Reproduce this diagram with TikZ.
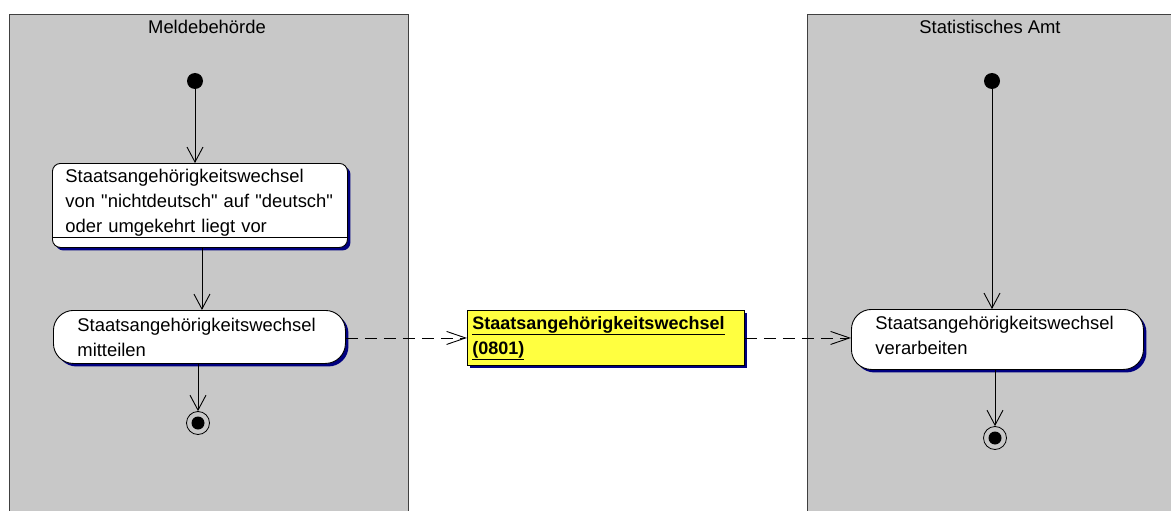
\documentclass[tikz,border=0pt]{standalone}
\usepackage{fontspec}
\setmainfont{Liberation Sans}[Ligatures=TeXOff]
\usetikzlibrary{arrows.meta,shadows}
\definecolor{lanegray}{RGB}{200,200,200}
\definecolor{shadownavy}{RGB}{0,0,128}
\definecolor{objyellow}{RGB}{255,255,64}
\newcommand{\dropdepth}[1]{\rule[-#1]{0pt}{0pt}}
\begin{document}
\begin{tikzpicture}[x=1pt,y=-1pt,
  font=\fontsize{18.4}{25}\selectfont,
  lane/.style={draw=black!75, fill=lanegray, line width=1pt, rectangle, anchor=north west, inner sep=0pt},
  lanetitle/.style={inner sep=0pt},
  navyshadow/.style={drop shadow={fill=shadownavy, opacity=1, shadow xshift=3pt, shadow yshift=-3pt}},
  actionbox/.style={draw=black, fill=white, line width=0.9pt, navyshadow, anchor=north west, align=left, inner ysep=0pt},
  objbox/.style={draw=black, fill=objyellow, line width=0.9pt, navyshadow, anchor=north west, align=left, inner ysep=0pt, inner xsep=5pt, text width=267pt, minimum width=277pt, minimum height=55pt, font=\fontsize{18}{25}\selectfont\bfseries},
  startdot/.style={circle, fill=black, minimum size=16pt, inner sep=0pt},
  enddot/.style={circle, draw=black, line width=0.8pt, minimum size=23pt, inner sep=0pt,
    path picture={\fill[black] (path picture bounding box.center) circle (6.5pt);}},
  flow/.style={draw=black, line width=0.9pt, -{Straight Barb[length=15pt,width=16pt,line width=0.9pt]}},
  objflow/.style={draw=black, line width=0.9pt, dash pattern=on 12pt off 7pt, -{Straight Barb[length=19pt,width=13pt,line width=0.9pt]}}
]
\useasboundingbox (0,0) rectangle (1171,511);
\clip (0,0) rectangle (1171,511);
\fill[white] (0,0) rectangle (1171,511);

% swimlanes
\node[lane, minimum width=399pt, minimum height=520pt] (lane1) at (9,14) {};
\node[lane, minimum width=380pt, minimum height=520pt] (lane2) at (807,14) {};
\node[lanetitle] (t1) at (207,27) {Meldebehörde};
\node[lanetitle] (t2) at (990,27) {Statistisches Amt};

% left lane
\node[startdot] (s1) at (195,81) {};
\node[actionbox, rounded corners=8pt, inner xsep=13pt, text width=269pt, minimum width=295pt, minimum height=84pt] (b1) at (52,163)
  {Staatsangehörigkeitswechsel\\von "nichtdeutsch" auf "deutsch"\\oder umgekehrt liegt vor\dropdepth{10pt}};
\draw[black, line width=0.9pt] ([yshift=10pt]b1.south west) -- ([yshift=10pt]b1.south east);
\node[actionbox, rounded corners=20pt, inner xsep=24pt, text width=244pt, minimum width=292pt, minimum height=53pt] (b2) at (53,310)
  {Staatsangehörigkeitswechsel\\mitteilen};
\node[enddot] (e1) at (198,423) {};

% object
\node[objbox] (obj) at (467,310) {\underline{Staatsangehörigkeitswechsel}\\\underline{(0801)}\dropdepth{4pt}};

% right lane
\node[startdot] (s2) at (992,81) {};
\node[actionbox, rounded corners=20pt, inner xsep=24pt, text width=244pt, minimum width=292pt, minimum height=60pt] (b3) at (851,309)
  {Staatsangehörigkeitswechsel\\verarbeiten\dropdepth{9pt}};
\node[enddot] (e2) at (995,438) {};

% control flows
\draw[flow] (s1) -- (b1.north -| s1);
\draw[flow] ([xshift=2pt]b1.south) -- ([xshift=2pt]b1.south |- b2.north);
\draw[flow] (b2.south -| e1) -- (e1);
\draw[flow] (s2) -- (b3.north -| s2);
\draw[flow] (b3.south -| e2) -- (e2);

% object flows
\draw[objflow] (obj.west -| b2.east) -- (obj.west);
\draw[objflow] (obj.east) -- (obj.east -| b3.west);
\end{tikzpicture}
\end{document}
